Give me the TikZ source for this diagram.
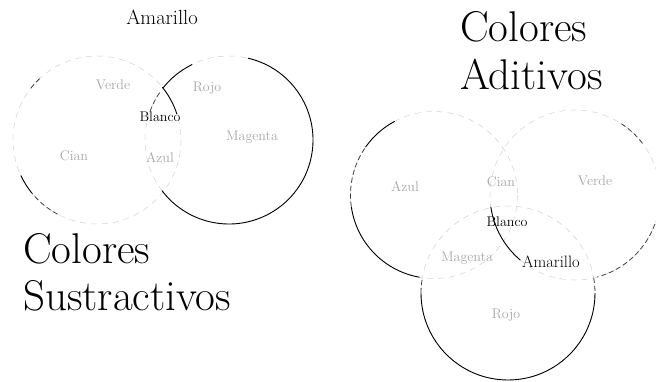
\documentclass[tikz,border=0pt]{standalone}
\begin{document}
\begin{tikzpicture}[x=1pt,y=-1pt,
  ink/.style={line width=0.9pt, black},
  broken/.style={line width=0.8pt, black!75, dash pattern=on 5pt off 3pt},
  faint/.style={line width=0.5pt, black!18, dash pattern=on 6pt off 5pt},
  lbl/.style={font=\fontsize{14}{16}\selectfont, text=black!35, inner sep=0pt},
  dark/.style={font=\fontsize{14}{16}\selectfont, text=black, inner sep=0pt},
  titletext/.style={font=\fontsize{43}{48}\selectfont, inner sep=0pt, anchor=base west}]
\useasboundingbox (0,0) rectangle (656,382);

% ---------- Colores Sustractivos ----------
\coordinate (sC) at (97,140);
\coordinate (sM) at (229,140);
\draw[faint] (sC) circle[radius=84];
\draw[faint] (sM) circle[radius=84];
% cian circle visible parts
\draw[ink] (sC) ++(141:84) arc[start angle=141, end angle=155, radius=84];
\draw[broken] (sC) ++(118:84) arc[start angle=118, end angle=141, radius=84];
\draw[broken] (sC) ++(218:84) arc[start angle=218, end angle=228, radius=84];
\draw[ink] (sC) ++(-39:84) arc[start angle=-39, end angle=-18, radius=84];
% magenta circle visible parts
\draw[ink] (sM) ++(218:84) arc[start angle=218, end angle=244, radius=84];
\draw[ink] (sM) ++(283:84) arc[start angle=283, end angle=503, radius=84];
\draw[broken] (sM) ++(200:84) arc[start angle=200, end angle=216, radius=84];

\node[font=\fontsize{20.5}{24}\selectfont, inner sep=0pt, anchor=base] (tAm) at (162,25) {Amarillo};
\node[lbl] (sVerde) at (113,85) {Verde};
\node[lbl] (sRojo) at (207,88) {Rojo};
\node[dark] (sBlanco) at (160,117) {Blanco};
\node[lbl] (sMagenta) at (252,137) {Magenta};
\node[lbl] (sCian) at (74,156) {Cian};
\node[lbl] (sAzul) at (160,158) {Azul};
\node[titletext] (sT1) at (23,263) {Colores};
\node[titletext] (sT2) at (23,310) {Sustractivos};

% ---------- Colores Aditivos ----------
\coordinate (aL) at (434,195);
\coordinate (aR) at (575,195);
\coordinate (aB) at (508,293);
\draw[faint] (aL) circle[radius=83.5];
\draw[faint] (aR) circle[radius=85];
\draw[faint] (aB) circle[radius=87];
% left circle
\draw[ink] (aL) ++(100:83.5) arc[start angle=100, end angle=172, radius=83.5];
\draw[broken] (aL) ++(172:83.5) arc[start angle=172, end angle=215, radius=83.5];
\draw[ink] (aL) ++(215:83.5) arc[start angle=215, end angle=242, radius=83.5];
% right circle
\draw[ink] (aR) ++(130:85) arc[start angle=130, end angle=172, radius=85];
\draw[broken] (aR) ++(20:85) arc[start angle=20, end angle=75, radius=85];
\draw[broken] (aR) ++(-57:85) arc[start angle=-57, end angle=-37, radius=85];
% bottom circle
\draw[ink] (aB) ++(0:87) arc[start angle=0, end angle=180, radius=87];
\draw[broken] (aB) ++(180:87) arc[start angle=180, end angle=190, radius=87];
\draw[broken] (aB) ++(-10:87) arc[start angle=-10, end angle=0, radius=87];

\node[lbl] (aAzul) at (405,187) {Azul};
\node[lbl] (aCian) at (501,182) {Cian};
\node[lbl] (aVerde) at (595,181) {Verde};
\node[dark] (aBlanco) at (507,222) {Blanco};
\node[lbl] (aMagenta) at (467,258) {Magenta};
\node[font=\fontsize{16.5}{19}\selectfont, inner sep=0pt] (aAmarillo) at (551,262) {Amarillo};
\node[lbl] (aRojo) at (506,315) {Rojo};
\node[titletext] (aT1) at (460,42) {Colores};
\node[titletext] (aT2) at (460,90) {Aditivos};
\end{tikzpicture}
\end{document}
